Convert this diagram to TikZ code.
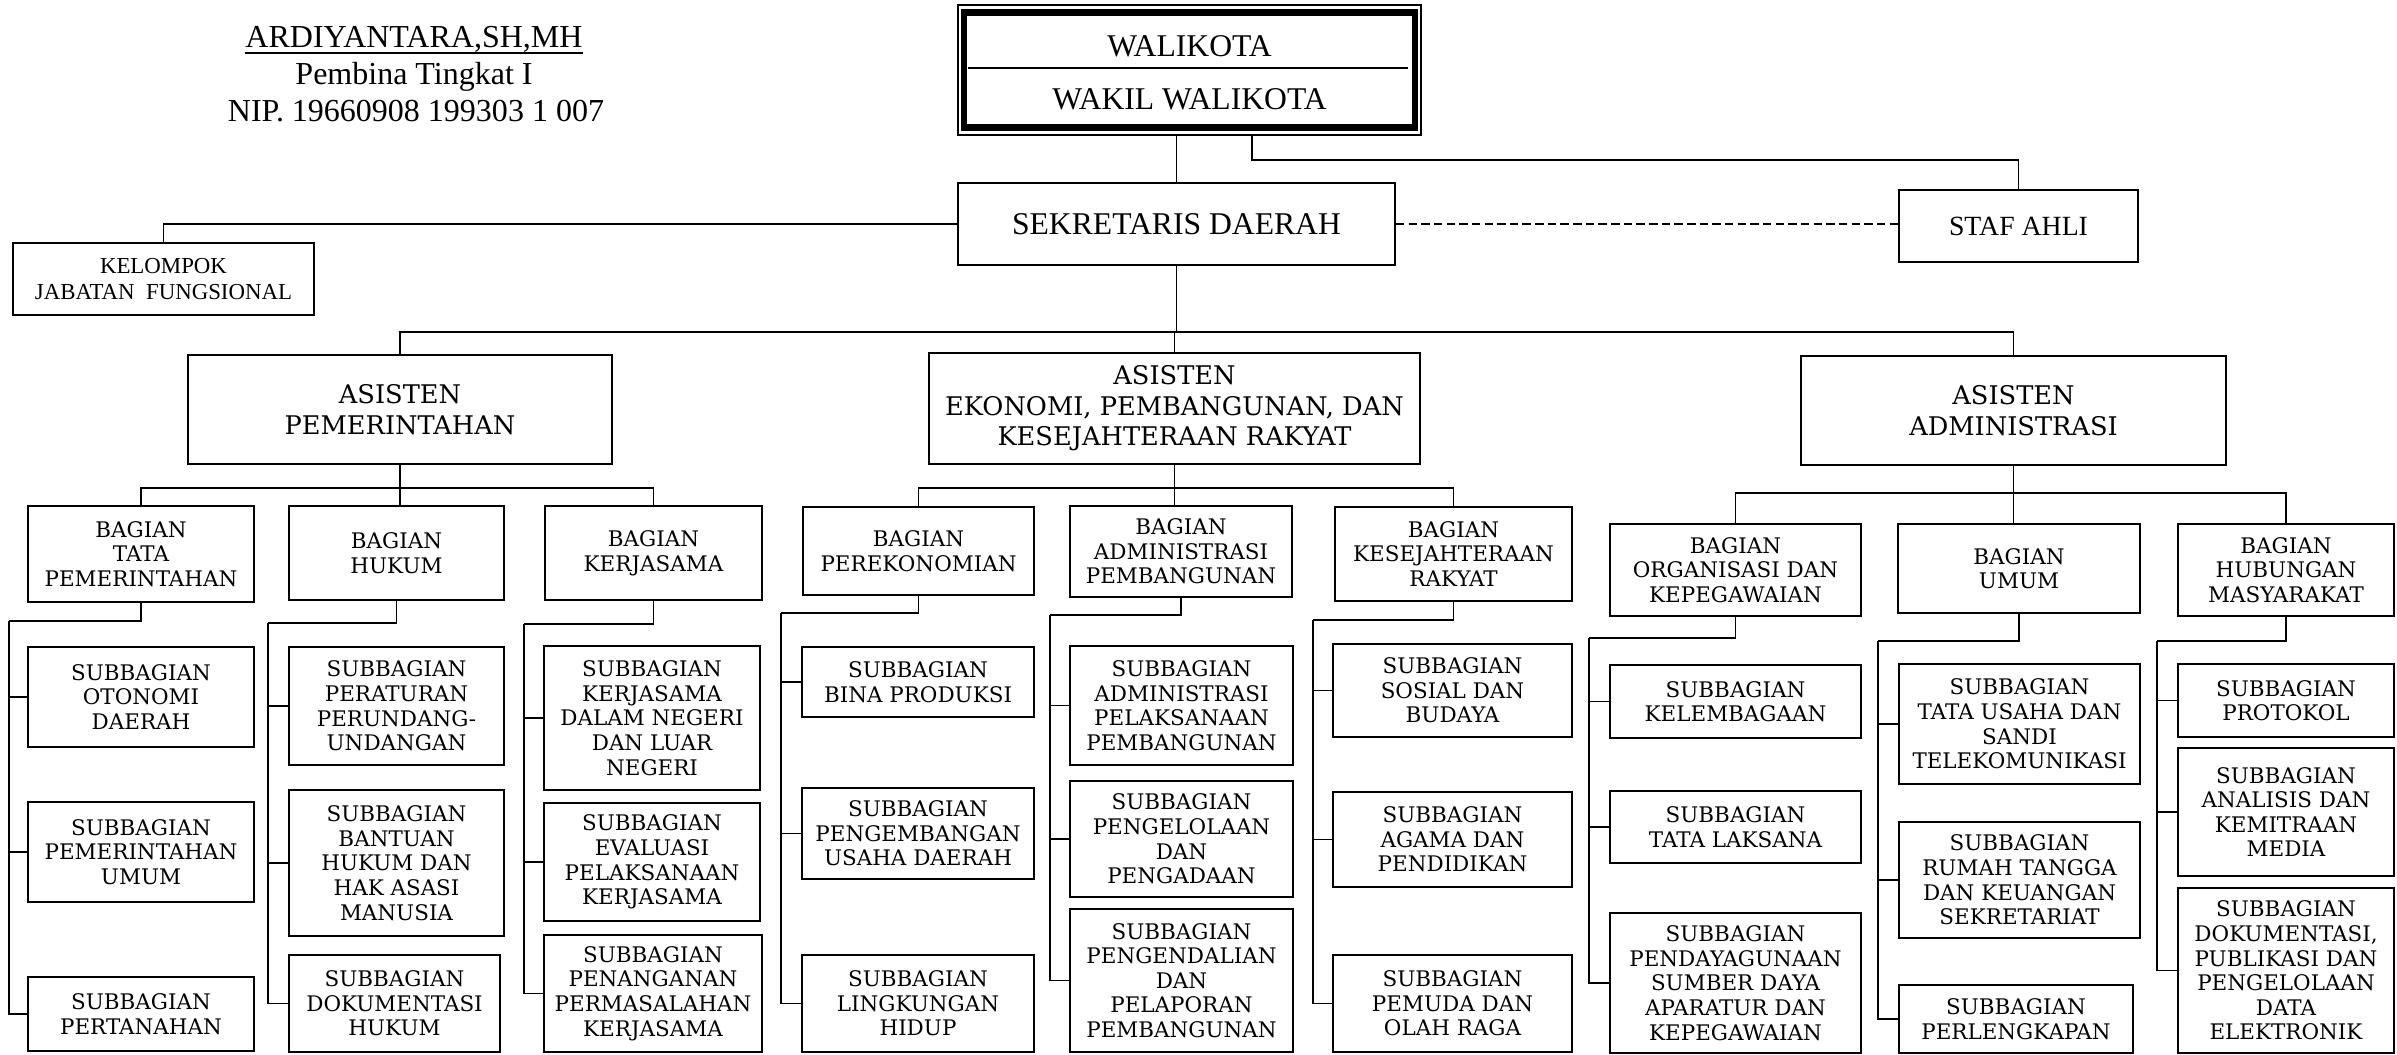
\documentclass[tikz,border=0pt]{standalone}
\usepackage{fontspec}
\setmainfont{Liberation Serif}
\newfontfamily\boxfont{DejaVu Serif}
\begin{document}
\begin{tikzpicture}[x=0.01cm, y=-0.01cm, line width=0.5pt,
  wh/.style 2 args={minimum width=#1*0.01cm, minimum height=#2*0.01cm},
  box/.style={draw, align=center, inner sep=0pt, font=\boxfont\fontsize{6.1}{7}\selectfont},
  asbox/.style={box, font=\boxfont\fontsize{7.3}{8.7}\selectfont},
  topbox/.style={draw, align=center, inner sep=0pt, font=\fontsize{9}{10.5}\selectfont}]
  \useasboundingbox (0,0) rectangle (2397,1055);

  % signature
  \node[anchor=base, inner sep=0pt, font=\fontsize{9.1}{10}\selectfont] (ttd1) at (414,48) {ARDIYANTARA,SH,MH};
  \draw[line width=0.6pt] ([yshift=-1.3pt]ttd1.base west) -- ([yshift=-1.3pt]ttd1.base east);
  \node[anchor=base, font=\fontsize{9.1}{10}\selectfont] (ttd2) at (414,85) {Pembina Tingkat I};
  \node[anchor=base, font=\fontsize{9.1}{10}\selectfont] (ttd3) at (416,122) {NIP. 19660908 199303 1 007};

  % top level
  \node[topbox, wh={463}{130}] (wali) at (1189.5,70) {};
  \draw[line width=1.85pt] ([shift={(7,8.5)}]wali.north west) rectangle ([shift={(-7,-8.5)}]wali.south east);
  \draw (968,68) -- (1408,68);
  \node[font=\fontsize{9}{10}\selectfont] (walikota) at (1189.5,46) {WALIKOTA};
  \node[font=\fontsize{9}{10}\selectfont] (wakil) at (1189.5,99) {WAKIL WALIKOTA};

  \node[topbox, wh={437}{82}] (sekda) at (1176.5,224) {SEKRETARIS DAERAH};
  \node[topbox, wh={239}{72}, font=\fontsize{7.9}{9}\selectfont] (staf) at (2018.5,226) {STAF AHLI};
  \node[topbox, wh={301}{72}, font=\fontsize{6.5}{7.3}\selectfont] (kjf) at (163.5,279) {KELOMPOK\\JABATAN\ \ FUNGSIONAL};

  \draw (wali.south -| sekda.north) -- (sekda.north);
  \coordinate (wstaf) at (1252,135);
  \draw (wstaf) -- ++(0,25) -| (staf.north);
  \draw[dash pattern=on 2.4pt off 1.2pt] (sekda.east) -- (sekda.east -| staf.west);
  \draw (sekda.west) -| (kjf.north);

  % asisten
  \node[asbox, wh={424}{109}] (apem) at (400,409.5) {ASISTEN\\PEMERINTAHAN};
  \node[asbox, wh={491}{111}] (aekon) at (1174.5,408.5) {ASISTEN\\EKONOMI, PEMBANGUNAN, DAN\\KESEJAHTERAAN RAKYAT};
  \node[asbox, wh={425}{109}] (aadm) at (2013.5,410.5) {ASISTEN\\ADMINISTRASI};

  \coordinate (sbus) at (1176.5,332);
  \draw (sekda.south) -- (sbus);
  \draw (apem.north) |- (sbus) -| (aadm.north);
  \draw (aekon.north) -- (aekon.north |- sbus);

  % bagian
  \node[box, wh={226}{96}] (btp) at (141,554) {BAGIAN\\TATA\\PEMERINTAHAN};
  \node[box, wh={215}{94}] (bhuk) at (396.5,553) {BAGIAN\\HUKUM};
  \node[box, wh={217}{94}] (bker) at (653.5,553) {BAGIAN\\KERJASAMA};
  \node[box, wh={231}{88}] (bper) at (918.5,551) {BAGIAN\\PEREKONOMIAN};
  \node[box, wh={222}{91}] (badm) at (1181,551.5) {BAGIAN\\ADMINISTRASI\\PEMBANGUNAN};
  \node[box, wh={237}{94}] (bkes) at (1453.5,554) {BAGIAN\\KESEJAHTERAAN\\RAKYAT};
  \node[box, wh={251}{92}] (borg) at (1735.5,570) {BAGIAN\\ORGANISASI DAN\\KEPEGAWAIAN};
  \node[box, wh={242}{89}] (bumum) at (2019,568.5) {BAGIAN\\UMUM};
  \node[box, wh={216}{92}] (bhum) at (2286,570) {BAGIAN\\HUBUNGAN\\MASYARAKAT};

  \path (apem.south) ++(0,23) coordinate (pbus);
  \draw (apem.south) -- (apem.south |- bhuk.north);
  \draw (btp.north) |- (pbus) -| (bker.north);
  \path (aekon.south) ++(0,23) coordinate (ebus);
  \draw (aekon.south) -- (aekon.south |- badm.north);
  \draw (bper.north) |- (ebus) -| (bkes.north);
  \path (aadm.south) ++(0,27) coordinate (abus);
  \draw (aadm.south) -- (aadm.south |- bumum.north);
  \draw (borg.north) |- (abus) -| (bhum.north);

  % subbagian
  \node[box, wh={226}{100}] (tp1) at (141,697) {SUBBAGIAN\\OTONOMI\\DAERAH};
  \node[box, wh={226}{100}] (tp2) at (141,852) {SUBBAGIAN\\PEMERINTAHAN\\UMUM};
  \node[box, wh={226}{74}] (tp3) at (141,1014) {SUBBAGIAN\\PERTANAHAN};

  \node[box, wh={215}{118}] (huk1) at (396.5,706) {SUBBAGIAN\\PERATURAN\\PERUNDANG-\\UNDANGAN};
  \node[box, wh={215}{146}] (huk2) at (396.5,863) {SUBBAGIAN\\BANTUAN\\HUKUM DAN\\HAK ASASI\\MANUSIA};
  \node[box, wh={211}{97}] (huk3) at (394.5,1003.5) {SUBBAGIAN\\DOKUMENTASI\\HUKUM};

  \node[box, wh={216}{144}] (ker1) at (652,718) {SUBBAGIAN\\KERJASAMA\\DALAM NEGERI\\DAN LUAR\\NEGERI};
  \node[box, wh={216}{118}] (ker2) at (652,862) {SUBBAGIAN\\EVALUASI\\PELAKSANAAN\\KERJASAMA};
  \node[box, wh={218}{117}] (ker3) at (653,993.5) {SUBBAGIAN\\PENANGANAN\\PERMASALAHAN\\KERJASAMA};

  \node[box, wh={232}{70}] (per1) at (918,682) {SUBBAGIAN\\BINA PRODUKSI};
  \node[box, wh={232}{91}] (per2) at (918,833.5) {SUBBAGIAN\\PENGEMBANGAN\\USAHA DAERAH};
  \node[box, wh={232}{97}] (per3) at (918,1003.5) {SUBBAGIAN\\LINGKUNGAN\\HIDUP};

  \node[box, wh={223}{119}] (adm1) at (1181.5,705.5) {SUBBAGIAN\\ADMINISTRASI\\PELAKSANAAN\\PEMBANGUNAN};
  \node[box, wh={223}{116}] (adm2) at (1181.5,839) {SUBBAGIAN\\PENGELOLAAN\\DAN\\PENGADAAN};
  \node[box, wh={223}{143}] (adm3) at (1181.5,980.5) {SUBBAGIAN\\PENGENDALIAN\\DAN\\PELAPORAN\\PEMBANGUNAN};

  \node[box, wh={239}{93}] (kes1) at (1452.5,690.5) {SUBBAGIAN\\SOSIAL DAN\\BUDAYA};
  \node[box, wh={239}{95}] (kes2) at (1452.5,839.5) {SUBBAGIAN\\AGAMA DAN\\PENDIDIKAN};
  \node[box, wh={239}{97}] (kes3) at (1452.5,1003.5) {SUBBAGIAN\\PEMUDA DAN\\OLAH RAGA};

  \node[box, wh={251}{73}] (org1) at (1735.5,701.5) {SUBBAGIAN\\KELEMBAGAAN};
  \node[box, wh={251}{72}] (org2) at (1735.5,827) {SUBBAGIAN\\TATA LAKSANA};
  \node[box, wh={251}{140}] (org3) at (1735.5,983) {SUBBAGIAN\\PENDAYAGUNAAN\\SUMBER DAYA\\APARATUR DAN\\KEPEGAWAIAN};

  \node[box, wh={241}{120}] (umu1) at (2019.5,724) {SUBBAGIAN\\TATA USAHA DAN\\SANDI\\TELEKOMUNIKASI};
  \node[box, wh={241}{116}] (umu2) at (2019.5,880) {SUBBAGIAN\\RUMAH TANGGA\\DAN KEUANGAN\\SEKRETARIAT};
  \node[box, wh={234}{68}] (umu3) at (2016,1019) {SUBBAGIAN\\PERLENGKAPAN};

  \node[box, wh={216}{73}] (hum1) at (2286,700.5) {SUBBAGIAN\\PROTOKOL};
  \node[box, wh={216}{128}] (hum2) at (2286,812) {SUBBAGIAN\\ANALISIS DAN\\KEMITRAAN\\MEDIA};
  \node[box, wh={216}{165}] (hum3) at (2286,970.5) {SUBBAGIAN\\DOKUMENTASI,\\PUBLIKASI DAN\\PENGELOLAAN\\DATA\\ELEKTRONIK};

  % rails to subbagian
  \coordinate (rtp) at (9,621);
  \coordinate (rhuk) at (268,623);
  \coordinate (rker) at (524,624);
  \coordinate (rper) at (781,613);
  \coordinate (radm) at (1050,615);
  \coordinate (rkes) at (1313,620);
  \coordinate (rorg) at (1589,638);
  \coordinate (rumu) at (1878,641);
  \coordinate (rhum) at (2157,641);
  \draw (btp.south) |- (rtp);
  \draw (bhuk.south) |- (rhuk);
  \draw (bker.south) |- (rker);
  \draw (bper.south) |- (rper);
  \draw (badm.south) |- (radm);
  \draw (bkes.south) |- (rkes);
  \draw (borg.south) |- (rorg);
  \draw (bumum.south) |- (rumu);
  \draw (bhum.south) |- (rhum);
  \foreach \r/\s in {tp/tp,huk/huk,ker/ker,per/per,adm/adm,kes/kes,org/org,umu/umu,hum/hum}
    \foreach \i in {1,2,3}
      \draw (r\r) |- (\s\i.west);
\end{tikzpicture}
\end{document}
